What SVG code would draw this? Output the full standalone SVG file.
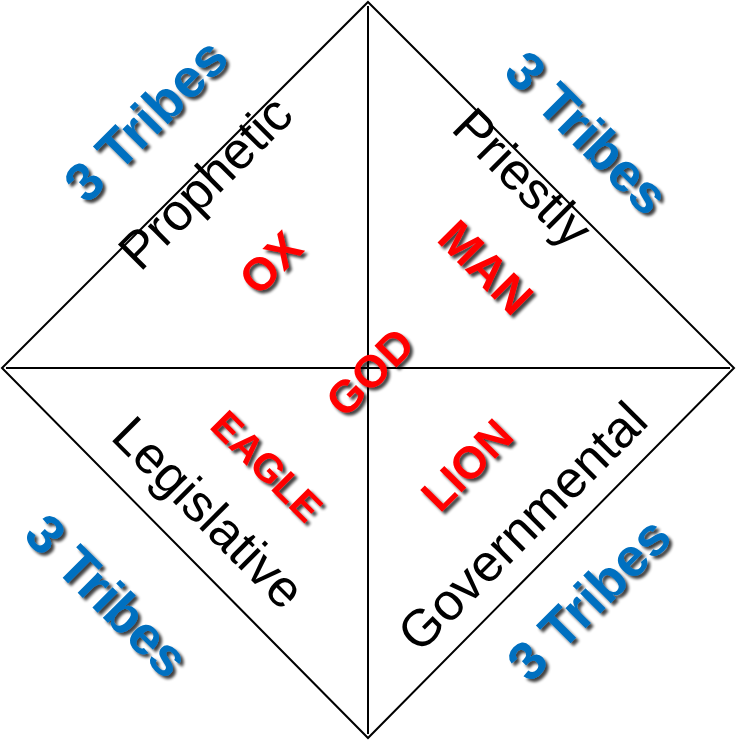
<svg xmlns="http://www.w3.org/2000/svg" width="736" height="741" viewBox="0 0 736 741">
<defs>
<filter id="sh" x="-20%" y="-20%" width="140%" height="140%">
<feGaussianBlur in="SourceAlpha" stdDeviation="1.6" result="b"/>
<feOffset in="b" dx="2.5" dy="2.5" result="o"/>
<feComponentTransfer in="o" result="s"><feFuncA type="linear" slope="0.75"/></feComponentTransfer>
<feMerge><feMergeNode in="s"/><feMergeNode in="SourceGraphic"/></feMerge>
</filter>
</defs>
<style>
.ln{fill:none;stroke:#000;stroke-width:2}
text{font-family:"Liberation Sans",Arial,sans-serif;text-anchor:middle}
.tr{font-weight:bold;fill:#0070C0;font-size:54px}
.rd{font-weight:bold;fill:#FF0000}
.bk{fill:#000;font-size:52px}
</style>
<rect width="736" height="741" fill="#fff"/>
<g id="connectors">
<polygon class="ln" points="368,2 734,368 368,738 2,368"/>
<line class="ln" x1="368" y1="6" x2="368" y2="734"/>
<line class="ln" x1="6" y1="368" x2="730" y2="368"/>
</g>
<g id="tribes-tl" filter="url(#sh)"><text class="tr" transform="translate(159,133) rotate(-45)">3 Tribes</text></g>
<g id="tribes-tr" filter="url(#sh)"><text class="tr" transform="translate(574,146) rotate(45)">3 Tribes</text></g>
<g id="tribes-bl" filter="url(#sh)"><text class="tr" transform="translate(94,609) rotate(45)">3 Tribes</text></g>
<g id="tribes-br" filter="url(#sh)"><text class="tr" transform="translate(602,612) rotate(-45)">3 Tribes</text></g>
<g id="prophetic"><text class="bk" transform="translate(218,195) rotate(-45)">Prophetic</text></g>
<g id="priestly"><text class="bk" transform="translate(510,190) rotate(45)">Priestly</text></g>
<g id="legislative"><text class="bk" transform="translate(196,525) rotate(45)">Legislative</text></g>
<g id="governmental"><text class="bk" transform="translate(535,539) rotate(-45)">Governmental</text></g>
<g id="ox" filter="url(#sh)"><text class="rd" font-size="46" transform="translate(282,274) rotate(-45)">OX</text></g>
<g id="man" filter="url(#sh)"><text class="rd" font-size="48" transform="translate(474,279) rotate(45)">MAN</text></g>
<g id="god" filter="url(#sh)"><text class="rd" font-size="45" transform="translate(381,383) rotate(-45)">GOD</text></g>
<g id="eagle" filter="url(#sh)"><text class="rd" font-size="40" transform="translate(257,476) rotate(45)">EAGLE</text></g>
<g id="lion" filter="url(#sh)"><text class="rd" font-size="45" transform="translate(478,476) rotate(-45)">LION</text></g>
</svg>
